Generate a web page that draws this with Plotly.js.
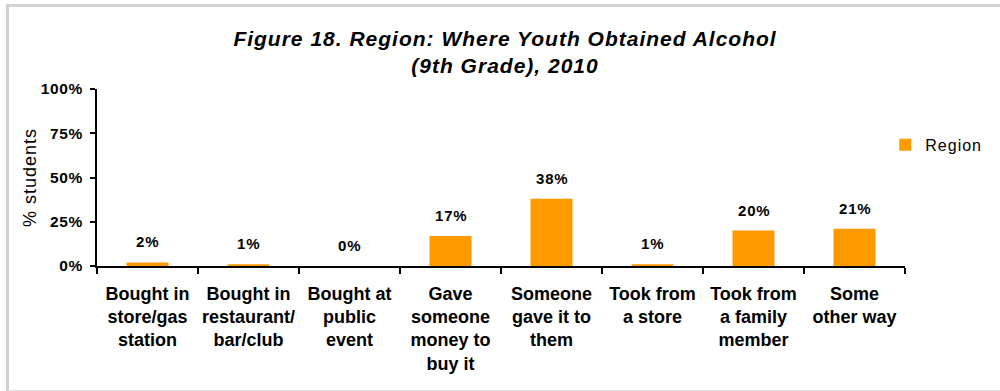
<!DOCTYPE html>
<html>
<head>
<meta charset="utf-8">
<script src="https://cdn.plot.ly/plotly-3.0.1.min.js"></script>
<style>
html,body{margin:0;padding:0;background:#fff;overflow:hidden;}
#wrap{position:relative;width:1000px;height:391px;overflow:hidden;}
#frame{position:absolute;left:6px;top:4px;width:1100px;height:383px;border-left:3px solid #d2d2d2;border-top:3px solid #d2d2d2;border-bottom:2px solid #e2e2e2;box-sizing:content-box;pointer-events:none;}
#chart{position:absolute;left:0;top:0;width:1000px;height:391px;}
.gtitle{letter-spacing:1px;}
.ytick text{letter-spacing:0.6px;}
.annotation-text{letter-spacing:0.8px;}
.legendtext{letter-spacing:1px;}
.g-ytitle text{letter-spacing:1px;}
</style>
</head>
<body>
<div id="wrap"><div id="frame"></div><div id="chart"></div></div>
<script>
const categories = [
  "Bought in<br>store/gas<br>station",
  "Bought in<br>restaurant/<br>bar/club",
  "Bought at<br>public<br>event",
  "Gave<br>someone<br>money to<br>buy it",
  "Someone<br>gave it to<br>them",
  "Took from<br>a store",
  "Took from<br>a family<br>member",
  "Some<br>other way"
];
const regionValues = [2, 1, 0, 17, 38, 1, 20, 21];
const valueLabels = ["2%", "1%", "0%", "17%", "38%", "1%", "20%", "21%"];
const yTickVals = [0, 25, 50, 75, 100];
const yTickText = ["0%", "25%", "50%", "75%", "100%"];

const font = "Liberation Sans, Arial, sans-serif";
const trace = {
  type: "bar",
  name: "Region",
  x: categories,
  y: regionValues,
  marker: {color: "#FF9900"}
};
const annotations = categories.map((c, i) => ({
  x: c, y: regionValues[i], xref: "x", yref: "y",
  text: "<b>" + valueLabels[i] + "</b>",
  showarrow: false, yanchor: "bottom", yshift: 10,
  font: {family: font, size: 15, color: "#000"}
}));
const layout = {
  width: 1000, height: 391,
  margin: {l: 97, r: 95, t: 89, b: 125},
  paper_bgcolor: "rgba(0,0,0,0)", plot_bgcolor: "rgba(0,0,0,0)",
  bargap: 0.584,
  title: {
    text: "<b><i>Figure 18. Region: Where Youth Obtained Alcohol<br>(9th Grade), 2010</i></b>",
    font: {family: font, size: 21, color: "#000"},
    x: 0.505, xanchor: "center", y: 0.882, yanchor: "middle"
  },
  xaxis: {
    showline: true, linecolor: "#000", linewidth: 2,
    ticks: "outside", tickson: "boundaries", ticklen: 6, tickcolor: "#000", tickwidth: 2,
    tickfont: {family: font, size: 18, color: "#000", weight: "bold"},
    ticklabelstandoff: 10,
    showgrid: false, automargin: false, tickangle: 0
  },
  yaxis: {
    range: [0, 100], tickvals: yTickVals, ticktext: yTickText,
    showline: true, linecolor: "#000", linewidth: 2,
    ticks: "outside", ticklen: 5, tickcolor: "#000", tickwidth: 2,
    tickfont: {family: font, size: 15.5, color: "#000", weight: "bold"},
    ticklabelstandoff: 4,
    showgrid: false, zeroline: false, automargin: false,
    title: {text: "% students", font: {family: font, size: 18, color: "#000"}, standoff: 0}
  },
  showlegend: true,
  legend: {
    x: 0.9756, xanchor: "left", y: 0.684, yanchor: "middle",
    font: {family: font, size: 16, color: "#000"},
    itemwidth: 30, bgcolor: "rgba(0,0,0,0)"
  },
  annotations: annotations
};
Plotly.newPlot("chart", [trace], layout, {displayModeBar: false, staticPlot: true});
</script>
</body>
</html>
